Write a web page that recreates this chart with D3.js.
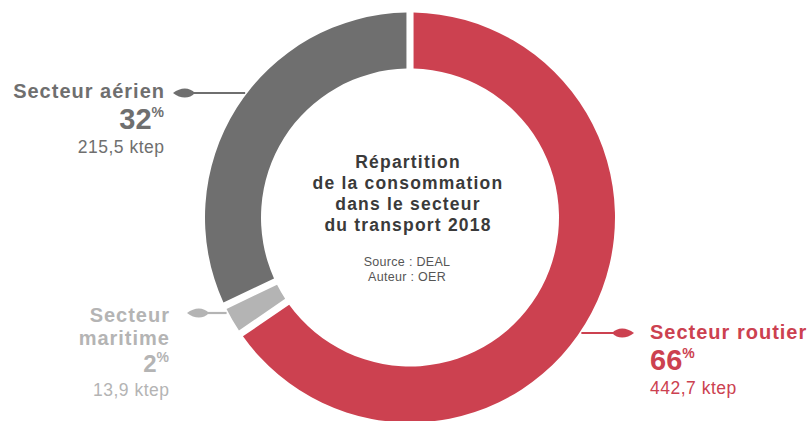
<!DOCTYPE html>
<html><head><meta charset="utf-8">
<script src="https://cdn.jsdelivr.net/npm/d3@7"></script>
<style>body{margin:0;background:#fff}svg{display:block}</style>
</head><body>
<svg id="c" width="809" height="421"></svg>
<script>
const categories = ["Secteur routier", "Secteur maritime", "Secteur aérien"];
const values = [442.7, 13.9, 215.5];
const percentLabels = ["66", "2", "32"];
const valueLabels = ["442,7 ktep", "13,9 ktep", "215,5 ktep"];
const colors = ["#cc4150", "#b4b4b4", "#6f6f6f"];
const titleLines = ["Répartition", "de la consommation", "dans le secteur", "du transport 2018"];
const sourceLines = ["Source : DEAL", "Auteur : OER"];

const svg = d3.select("#c");
const cx = 410, cy = 217.5, rOut = 205, rIn = 149;
const g = svg.append("g").attr("transform", `translate(${cx},${cy})`);

const pie = d3.pie().sort(null).value(d => d).padAngle(0.028);
const arcs = pie(values);
const arc = d3.arc().innerRadius(rIn).outerRadius(rOut);
g.selectAll("path.slice").data(arcs).join("path")
  .attr("class", "slice").attr("d", arc).attr("fill", (d, i) => colors[i]);

const font = "'Liberation Sans', Arial, sans-serif";

// Center text
titleLines.forEach((t, i) => {
  svg.append("text").attr("x", 408).attr("y", 168 + i * 21)
    .attr("text-anchor", "middle").attr("font-family", font).attr("font-weight", 700)
    .attr("font-size", 17.5).attr("letter-spacing", 1.2).attr("fill", "#3a3a3a").text(t);
});
sourceLines.forEach((t, i) => {
  svg.append("text").attr("x", 407).attr("y", 266 + i * 15)
    .attr("text-anchor", "middle").attr("font-family", font)
    .attr("font-size", 12.5).attr("letter-spacing", 0.3).attr("fill", "#555").text(t);
});

// Leaf marker
function leaf(tipX, y, dir, w, h) {
  const x0 = tipX, x1 = tipX - dir * w;
  const p = d3.path();
  p.moveTo(x0, y);
  p.bezierCurveTo(x0 - dir * w * 0.35, y - h * 0.55, x0 - dir * w * 0.75, y - h * 0.55, x1, y);
  p.bezierCurveTo(x0 - dir * w * 0.75, y + h * 0.55, x0 - dir * w * 0.35, y + h * 0.55, x0, y);
  p.closePath();
  return p.toString();
}

function ringX(y, side) {
  const dy = y - cy;
  return cx + side * Math.sqrt(rOut * rOut - dy * dy);
}

const leaders = [
  {i: 0, y: 333, side: 1, tip: 634},
  {i: 1, y: 313, side: -1, tip: 187},
  {i: 2, y: 93, side: -1, tip: 173}
];
leaders.forEach(L => {
  const ex = ringX(L.y, L.side) + L.side * 2;
  const dir = L.side;
  const leafW = 22;
  const base = L.tip - dir * leafW;
  svg.append("line").attr("x1", ex).attr("x2", base + dir * 2).attr("y1", L.y).attr("y2", L.y)
    .attr("stroke", colors[L.i]).attr("stroke-width", 2.2);
  svg.append("path").attr("d", leaf(L.tip, L.y, dir, leafW, 11)).attr("fill", colors[L.i]);
});

function label(i, x, anchor, nameLines, ys, pSize) {
  const c = colors[i];
  const adj = anchor === "end" ? 1 : 0;
  nameLines.forEach((t, k) => {
    svg.append("text").attr("x", x + adj).attr("y", ys[k]).attr("text-anchor", anchor)
      .attr("font-family", font).attr("font-weight", 700).attr("font-size", 20)
      .attr("letter-spacing", 1).attr("fill", c).text(t);
  });
  const pt = svg.append("text").attr("x", x).attr("y", ys[nameLines.length]).attr("text-anchor", anchor)
    .attr("font-family", font).attr("font-weight", 700).attr("fill", c);
  pt.append("tspan").attr("font-size", pSize).text(percentLabels[i]);
  pt.append("tspan").attr("font-size", 14).attr("dy", -pSize * 0.4).text("%");
  svg.append("text").attr("x", x + adj * 0.5).attr("y", ys[nameLines.length + 1]).attr("text-anchor", anchor)
    .attr("font-family", font).attr("font-weight", 400).attr("font-size", 17.5)
    .attr("letter-spacing", 0.5).attr("fill", c).text(valueLabels[i]);
}
label(0, 650, "start", ["Secteur routier"], [339, 370, 394], 29);
label(1, 169, "end", ["Secteur", "maritime"], [322, 345, 372, 396], 24);
label(2, 164, "end", ["Secteur aérien"], [98, 129, 153], 29);
</script>
</body></html>
